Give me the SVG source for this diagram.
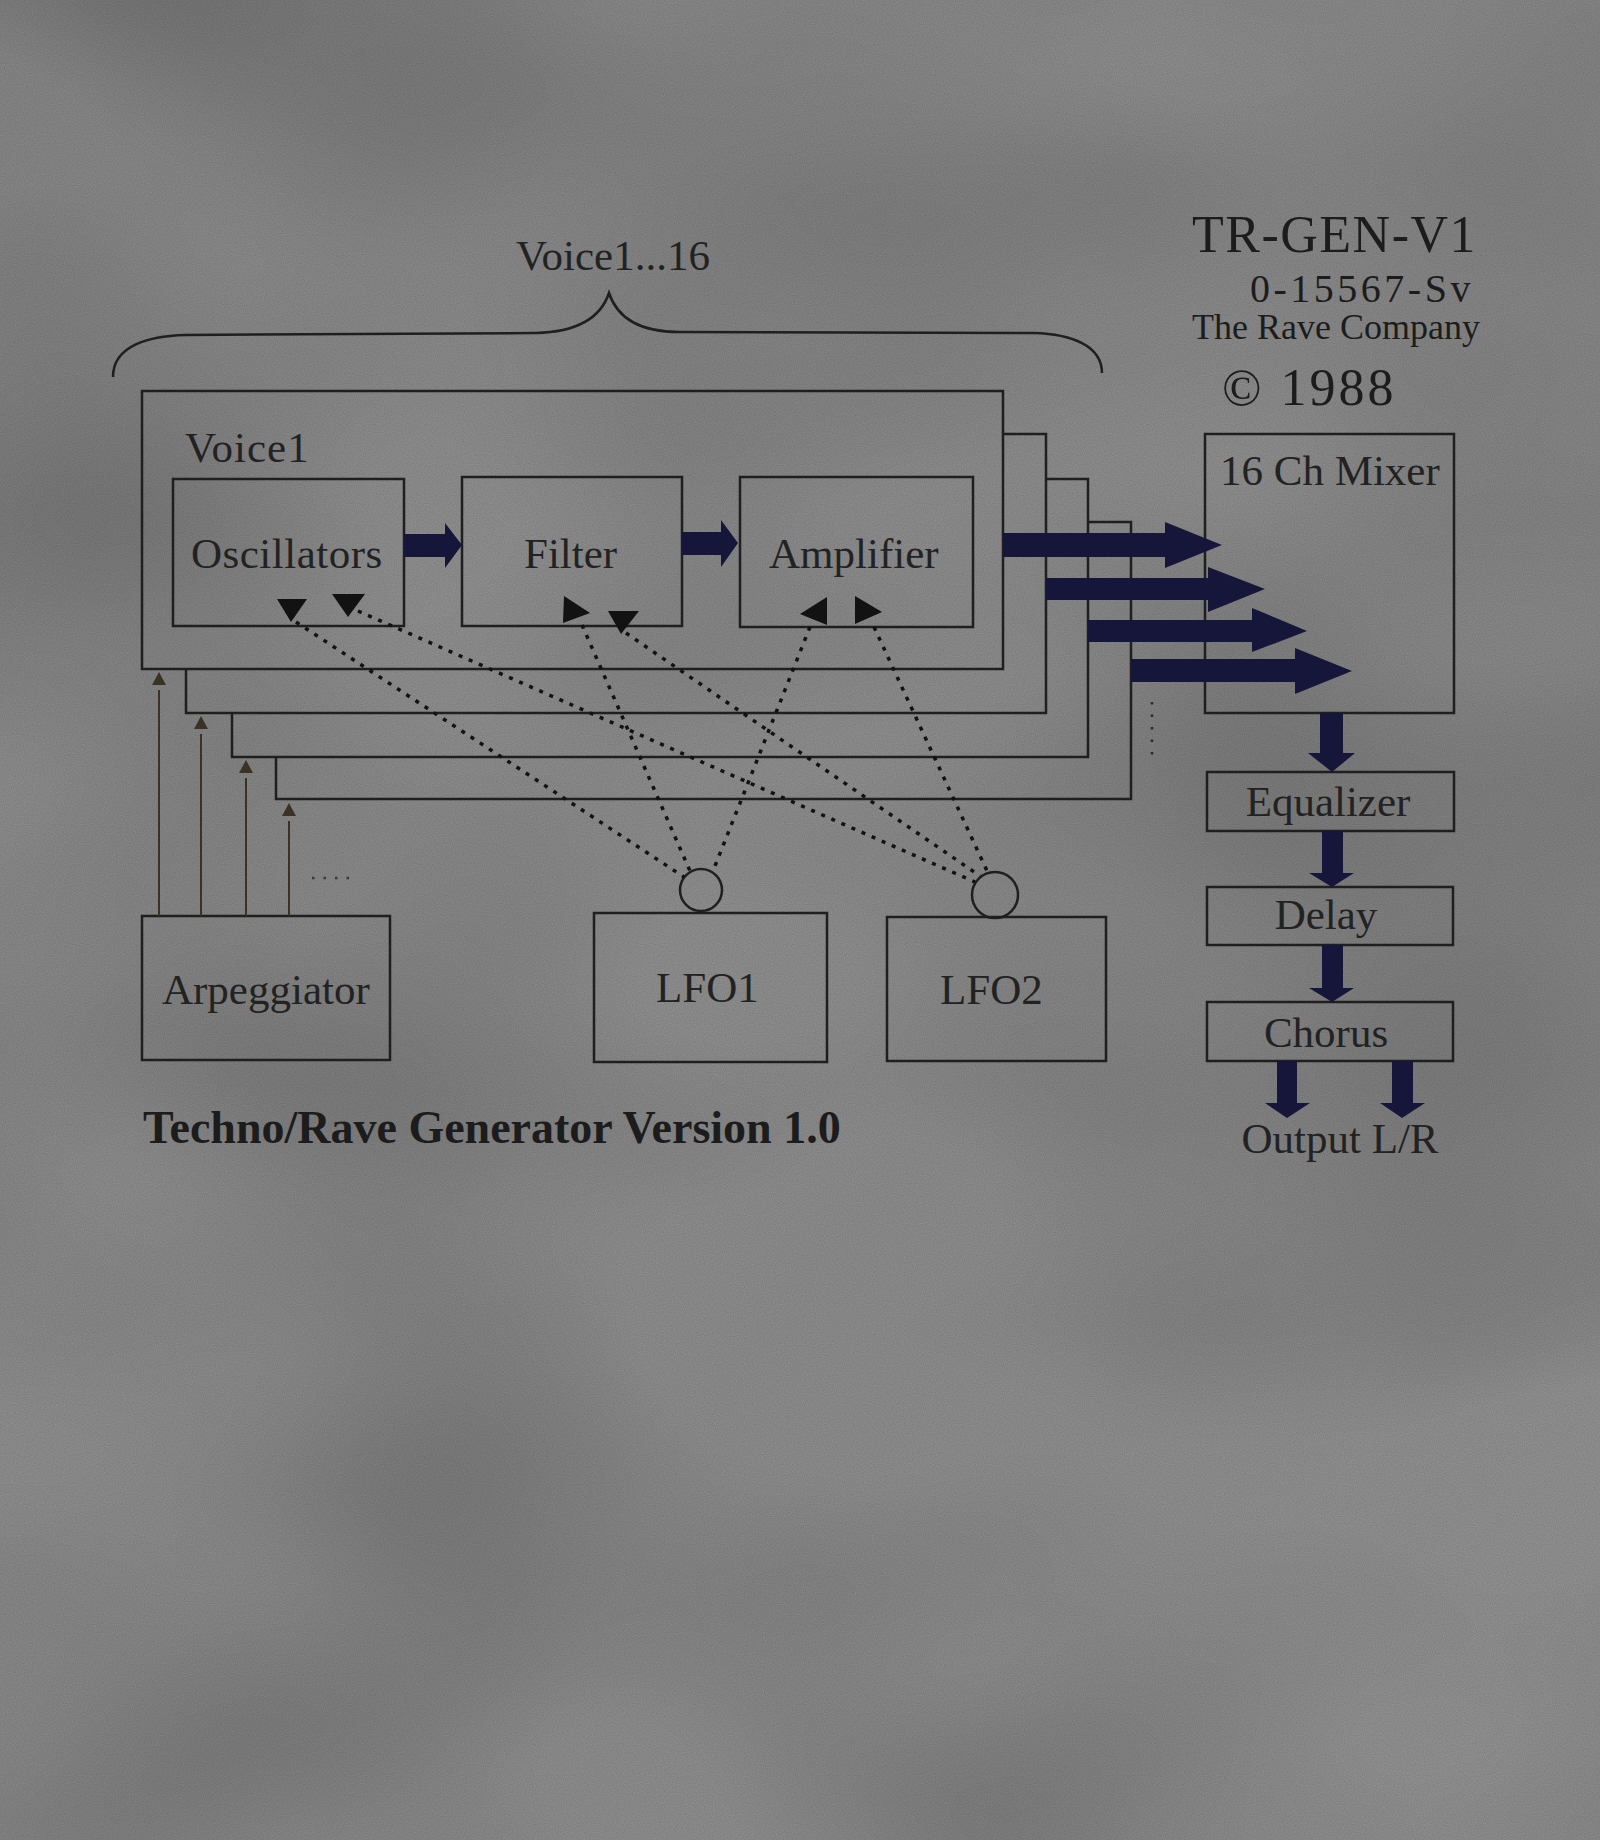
<svg xmlns="http://www.w3.org/2000/svg" width="1600" height="1840" viewBox="0 0 1600 1840">
  <defs>
    <linearGradient id="bg" x1="0" y1="0" x2="1" y2="1">
      <stop offset="0" stop-color="#858585"/>
      <stop offset="0.35" stop-color="#929292"/>
      <stop offset="0.6" stop-color="#8d8d8d"/>
      <stop offset="1" stop-color="#939393"/>
    </linearGradient>
    <filter id="grain" x="0" y="0" width="100%" height="100%">
      <feTurbulence type="fractalNoise" baseFrequency="0.9" numOctaves="1" seed="3" result="n"/>
      <feColorMatrix type="matrix" values="0 0 0 0 0  0 0 0 0 0  0 0 0 0 0  0 0 0 0.22 -0.05"/>
    </filter>
    <filter id="cloud" x="0" y="0" width="100%" height="100%">
      <feTurbulence type="fractalNoise" baseFrequency="0.0018 0.003" numOctaves="2" seed="7"/>
      <feColorMatrix type="matrix" values="0 0 0 0 0  0 0 0 0 0  0 0 0 0 0  0 0 0 0.3 -0.1"/>
    </filter>
    <style>
      .ink { fill: none; stroke: #1f1f1f; stroke-width: 2.5; }
      .lbl { font-family: "Liberation Serif", "Times New Roman", serif; font-size: 43px; fill: #222222; }
      .dot { fill: none; stroke: #121212; stroke-width: 3.5; stroke-dasharray: 4 7; }
      .tri { fill: #121212; }
      .fat { fill: #16163a; }
      .arp { fill: none; stroke: #3a3224; stroke-width: 2; }
      .arph { fill: #3a3224; }
    </style>
  </defs>

  <rect x="0" y="0" width="1600" height="1840" fill="url(#bg)"/>
  <rect x="0" y="0" width="1600" height="1840" filter="url(#cloud)"/>
  <rect x="0" y="0" width="1600" height="1840" filter="url(#grain)"/>

  <!-- Title block -->
  <g id="title" font-family="'Liberation Serif', 'Times New Roman', serif" fill="#1c1c1c">
    <text x="1192" y="252" font-size="52" letter-spacing="1.5">TR-GEN-V1</text>
    <text x="1250" y="302" font-size="40" letter-spacing="3.5">0-15567-Sv</text>
    <text x="1192" y="339" font-size="36">The Rave Company</text>
    <text x="1222" y="405" font-size="52" letter-spacing="3">© 1988</text>
  </g>

  <!-- Brace and voice count -->
  <g id="voices-brace">
    <path class="ink" d="M113,377 C113,345 150,336 185,335 L536,333 C575,332 600,320 609,293 C618,320 643,332 679,332 L1034,333 C1070,334 1102,345 1102,373"/>
    <text class="lbl" x="516" y="270">Voice1...16</text>
  </g>

  <!-- Stacked voice boxes (behind) -->
  <g id="voice4"><polyline class="ink" points="276,757 276,799 1131,799 1131,522 1088,522"/></g>
  <g id="voice3"><polyline class="ink" points="232,713 232,757 1088,757 1088,479 1046,479"/></g>
  <g id="voice2"><polyline class="ink" points="186,669 186,713 1046,713 1046,434 1003,434"/></g>

  <!-- Voice 1 -->
  <g id="voice1">
    <rect class="ink" x="142" y="391" width="861" height="278"/>
    <text class="lbl" x="185" y="462" letter-spacing="1">Voice1</text>
  </g>
  <g id="oscillators">
    <rect class="ink" x="173" y="479" width="231" height="147"/>
    <text class="lbl" x="191" y="568" letter-spacing="0.5">Oscillators</text>
  </g>
  <g id="filter">
    <rect class="ink" x="462" y="477" width="220" height="149"/>
    <text class="lbl" x="524" y="568">Filter</text>
  </g>
  <g id="amplifier">
    <rect class="ink" x="740" y="477" width="233" height="150"/>
    <text class="lbl" x="769" y="568">Amplifier</text>
  </g>

  <!-- Modulation sources -->
  <g id="arpeggiator">
    <rect class="ink" x="142" y="916" width="248" height="144"/>
    <text class="lbl" x="162" y="1004">Arpeggiator</text>
  </g>
  <g id="lfo1">
    <rect class="ink" x="594" y="913" width="233" height="149"/>
    <ellipse class="ink" cx="701" cy="890" rx="21" ry="21"/>
    <text class="lbl" x="656" y="1002" font-size="45">LFO1</text>
  </g>
  <g id="lfo2">
    <rect class="ink" x="887" y="917" width="219" height="144"/>
    <ellipse class="ink" cx="995" cy="895" rx="23" ry="23"/>
    <text class="lbl" x="940" y="1004" font-size="45">LFO2</text>
  </g>

  <!-- Output chain -->
  <g id="mixer">
    <rect class="ink" x="1205" y="434" width="249" height="279"/>
    <text class="lbl" x="1220" y="485">16 Ch Mixer</text>
  </g>
  <g id="equalizer">
    <rect class="ink" x="1207" y="772" width="247" height="59"/>
    <text class="lbl" x="1328" y="816" text-anchor="middle">Equalizer</text>
  </g>
  <g id="delay">
    <rect class="ink" x="1207" y="887" width="246" height="58"/>
    <text class="lbl" x="1326" y="929" text-anchor="middle">Delay</text>
  </g>
  <g id="chorus">
    <rect class="ink" x="1207" y="1002" width="246" height="59"/>
    <text class="lbl" x="1326" y="1047" text-anchor="middle">Chorus</text>
  </g>
  <g id="output">
    <text class="lbl" x="1340" y="1153" text-anchor="middle">Output L/R</text>
  </g>

  <g id="caption">
    <text x="143" y="1143" font-family="'Liberation Serif', 'Times New Roman', serif" font-weight="bold" font-size="46" fill="#1c1c1c">Techno/Rave Generator Version 1.0</text>
  </g>

  <!-- Connectors -->
  <g id="connectors">
    <!-- signal path inside voice -->
    <polygon class="fat" points="404,534 445,534 445,523 462,545 445,568 445,557 404,557"/>
    <polygon class="fat" points="682,532 721,532 721,520 738,543 721,567 721,555 682,555"/>
    <!-- voices to mixer -->
    <polygon class="fat" points="1003,533 1165,533 1165,522 1222,545 1165,568 1165,557 1003,557"/>
    <polygon class="fat" points="1046,578 1208,578 1208,567 1265,589 1208,612 1208,600 1046,600"/>
    <polygon class="fat" points="1088,620 1252,620 1252,608 1307,631 1252,652 1252,642 1088,642"/>
    <polygon class="fat" points="1131,659 1295,659 1295,648 1352,671 1295,694 1295,682 1131,682"/>
    <line x1="1152" y1="702" x2="1152" y2="755" stroke="#2a2a2a" stroke-width="2.5" stroke-dasharray="2.5 10"/>
    <!-- effect chain -->
    <polygon class="fat" points="1320,713 1343,713 1343,753 1355,753 1332,772 1308,753 1320,753"/>
    <polygon class="fat" points="1322,831 1343,831 1343,873 1354,873 1332,887 1309,873 1322,873"/>
    <polygon class="fat" points="1322,945 1343,945 1343,988 1354,988 1332,1002 1309,988 1322,988"/>
    <polygon class="fat" points="1277,1061 1297,1061 1297,1103 1310,1103 1287,1118 1265,1103 1277,1103"/>
    <polygon class="fat" points="1392,1061 1413,1061 1413,1103 1425,1103 1402,1118 1380,1103 1392,1103"/>
    <!-- arpeggiator triggers -->
    <line class="arp" x1="159" y1="916" x2="159" y2="690"/>
    <polygon class="arph" points="159,672 166,685 152,685"/>
    <line class="arp" x1="201" y1="916" x2="201" y2="734"/>
    <polygon class="arph" points="201,716 208,729 194,729"/>
    <line class="arp" x1="246" y1="916" x2="246" y2="778"/>
    <polygon class="arph" points="246,760 253,773 239,773"/>
    <line class="arp" x1="289" y1="916" x2="289" y2="821"/>
    <polygon class="arph" points="289,803 296,816 282,816"/>
    <line x1="312" y1="878" x2="356" y2="878" stroke="#3a3a3a" stroke-width="2.5" stroke-dasharray="2.5 9"/>
    <!-- LFO modulation (dotted) -->
    <line class="dot" x1="296" y1="622" x2="684" y2="877"/>
    <line class="dot" x1="358" y1="611" x2="975" y2="882"/>
    <line class="dot" x1="582" y1="625" x2="690" y2="871"/>
    <line class="dot" x1="626" y1="633" x2="980" y2="876"/>
    <line class="dot" x1="810" y1="627" x2="713" y2="871"/>
    <line class="dot" x1="874" y1="627" x2="988" y2="873"/>
    <polygon class="tri" points="277,599 307,599 291,622"/>
    <polygon class="tri" points="332,594 365,594 348,617"/>
    <polygon class="tri" points="564,596 590,613 563,623"/>
    <polygon class="tri" points="608,611 639,611 621,634"/>
    <polygon class="tri" points="827,597 827,625 800,614"/>
    <polygon class="tri" points="855,596 882,612 855,624"/>
  </g>
</svg>
